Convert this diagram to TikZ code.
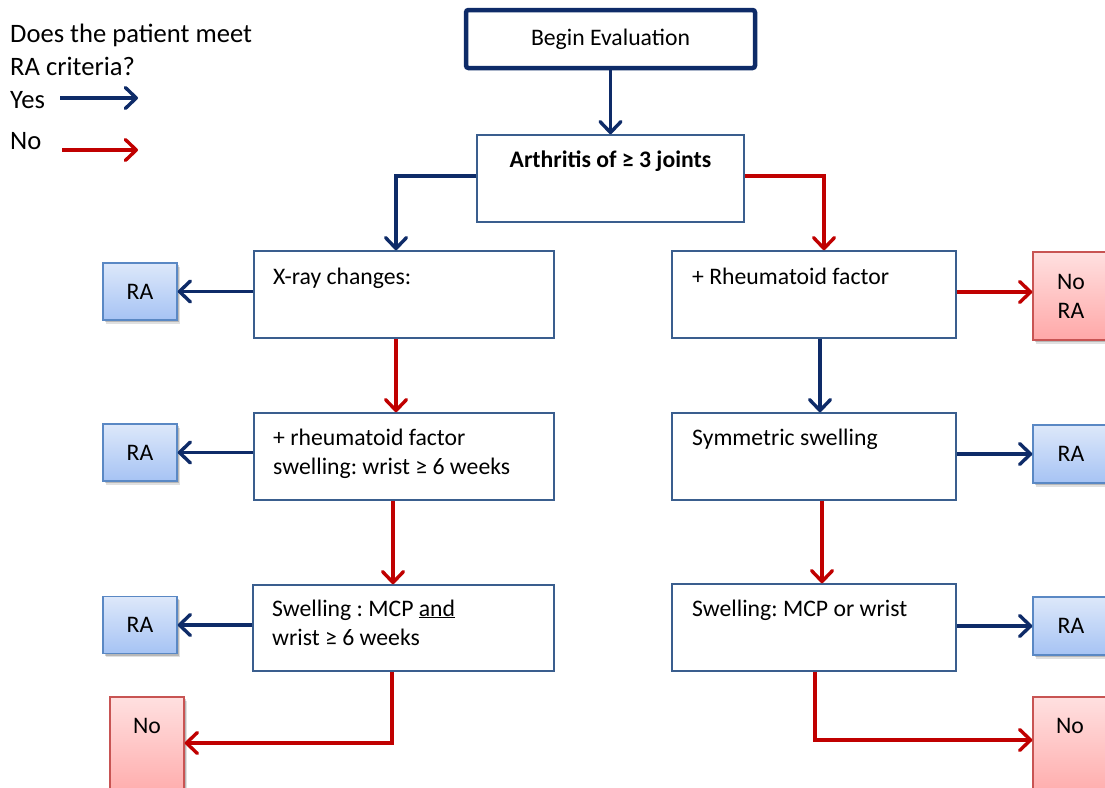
\documentclass[tikz,border=0pt]{standalone}
\usepackage{fontspec}
\setmainfont{Carlito}
\usetikzlibrary{arrows.meta,shadows}
\frenchspacing

\definecolor{yesblue}{HTML}{0E2B68}
\definecolor{nored}{HTML}{C00000}
\definecolor{boxline}{HTML}{3A5E8E}
\definecolor{raline}{HTML}{5A88C4}
\definecolor{ratop}{HTML}{DDE8FA}
\definecolor{rabot}{HTML}{A6C3F4}
\definecolor{noline}{HTML}{C85453}
\definecolor{notop}{HTML}{FFE0E0}
\definecolor{nobot}{HTML}{FFA8A8}

\newcommand\flowfont{\fontsize{23.7}{29}\selectfont}
\newcommand\legendfont{\fontsize{26.6}{30}\selectfont}

\tikzset{
  flowbox/.style={draw=boxline, line width=1.5pt, fill=white, inner sep=0pt},
  startbox/.style={draw=yesblue, line width=4.5pt, rounded corners=2.5pt, inner sep=0pt,
    minimum width=289pt, minimum height=58pt},
  flowtext/.style={font=\flowfont, inner sep=0pt, anchor=base west, align=left},
  resbox/.style={line width=1.4pt, inner sep=0pt, font=\flowfont, align=center,
    drop shadow={shadow xshift=3pt, shadow yshift=-3.5pt, opacity=0.12, fill=black},
    drop shadow={shadow xshift=1.5pt, shadow yshift=-2pt, opacity=0.18, fill=black}},
  rabox/.style={resbox, draw=raline, top color=ratop, bottom color=rabot,
    minimum width=74pt, minimum height=57pt},
  nobox/.style={resbox, draw=noline, top color=notop, bottom color=nobot,
    minimum width=74pt},
  yesarrow/.style={draw=yesblue, line width=3.4pt,
    -{Straight Barb[length=11pt,width=21pt,round]}},
  noarrow/.style={draw=nored, line width=3.4pt,
    -{Straight Barb[length=11pt,width=21pt,round]}}
}

\begin{document}
\begin{tikzpicture}[x=1pt,y=-1pt]
\clip (0,0) rectangle (1105,787);
\fill[white] (0,0) rectangle (1105,787);

% legend
\node[font=\legendfont, inner sep=0pt, anchor=base west] (q1) at (10,42) {Does the patient meet};
\node[font=\legendfont, inner sep=0pt, anchor=base west] (q2) at (10,75) {RA criteria?};
\node[font=\legendfont, inner sep=0pt, anchor=base west] (lyes) at (10,108) {Yes};
\node[font=\legendfont, inner sep=0pt, anchor=base west] (lno) at (10,149) {No};
\coordinate (yesA) at (60,98);
\coordinate (yesB) at (138,98);
\coordinate (noA) at (62,150);
\coordinate (noB) at (138,150);
\draw[yesarrow] (yesA) -- (yesB);
\draw[noarrow] (noA) -- (noB);

% start and first question
\node[startbox, font=\flowfont] (begin) at (610.5,39) {Begin Evaluation};
\node[flowbox, minimum width=267pt, minimum height=87pt] (arth) at (610.5,178.5) {};
\node[font=\flowfont\bfseries, inner sep=0pt, anchor=base] (arthT) at (610.5,167) {Arthritis of ≥ 3 joints};

% left column
\node[flowbox, minimum width=300pt, minimum height=87pt] (xray) at (404,294.5) {};
\node[flowtext] (xrayT) at (273,284) {X-ray changes:};
\node[flowbox, minimum width=300pt, minimum height=87pt] (rfl) at (404,456.5) {};
\node[flowtext] (rflT1) at (273,445) {+ rheumatoid factor};
\node[flowtext] (rflT2) at (273,474) {swelling: wrist ≥ 6 weeks};
\node[flowbox, minimum width=301pt, minimum height=86pt] (mcp) at (403.5,628) {};
\node[flowtext] (mcpT1) at (272,616) {Swelling : MCP \underline{and}};
\node[flowtext] (mcpT2) at (272,645) {wrist ≥ 6 weeks};

% right column
\node[flowbox, minimum width=284pt, minimum height=87pt] (prf) at (814,294.5) {};
\node[flowtext] (prfT) at (692,284) {+ Rheumatoid factor};
\node[flowbox, minimum width=284pt, minimum height=87pt] (sym) at (814,456.5) {};
\node[flowtext] (symT) at (692,445) {Symmetric swelling};
\node[flowbox, minimum width=284pt, minimum height=87pt] (mw) at (814,627.5) {};
\node[flowtext] (mwT) at (692,616) {Swelling: MCP or wrist};

% outcomes, left
\node[rabox] (ra1) at (140,291.5) {RA};
\node[rabox] (ra2) at (140,452.5) {RA};
\node[rabox] (ra3) at (140,625) {RA};
\node[nobox, minimum height=105pt] (no1) at (147,749.5) {};
\node[font=\flowfont, inner sep=0pt, anchor=base] (no1T) at (147,733) {No};

% outcomes, right
\node[nobox, minimum width=76pt, minimum height=88pt] (nora) at (1071,296) {No\\RA};
\node[rabox, minimum width=76pt, minimum height=58pt] (raR1) at (1071,454) {RA};
\node[rabox, minimum width=76pt, minimum height=58pt] (raR2) at (1071,626) {RA};
\node[nobox, minimum width=76pt, minimum height=105pt] (noR) at (1071,749.5) {};
\node[font=\flowfont, inner sep=0pt, anchor=base] (noRT) at (1070,733) {No};

% connectors
\draw[yesarrow] (begin.south) -- (arth.north);
\draw[yesarrow] ([yshift=2.5pt]arth.west) -| ([xshift=-8pt]xray.north);
\draw[noarrow] ([yshift=2.5pt]arth.east) -| ([xshift=10pt]prf.north);

\draw[yesarrow] (ra1.east -| xray.west) -- (ra1.east);
\draw[noarrow] ([xshift=-8pt]xray.south) -- ([xshift=-8pt]rfl.north);
\draw[yesarrow] (ra2.east -| rfl.west) -- (ra2.east);
\draw[noarrow] ([xshift=-11pt]rfl.south) -- ([xshift=-11pt]rfl.south |- mcp.north);
\draw[yesarrow] (ra3.east -| mcp.west) -- (ra3.east);
\draw[noarrow] ([xshift=-11.5pt]mcp.south) |- ([yshift=6.5pt]no1.east);

\draw[noarrow] ([yshift=2.5pt]prf.east) -- ([yshift=2.5pt]prf.east -| nora.west);
\draw[yesarrow] ([xshift=6pt]prf.south) -- ([xshift=6pt]sym.north);
\draw[yesarrow] (sym.east |- raR1.west) -- (raR1.west);
\draw[noarrow] ([xshift=8pt]sym.south) -- ([xshift=8pt]sym.south |- mw.north);
\draw[yesarrow] (mw.east |- raR2.west) -- (raR2.west);
\draw[noarrow] ([xshift=1pt]mw.south) |- ([yshift=9.5pt]noR.west);
\end{tikzpicture}
\end{document}
